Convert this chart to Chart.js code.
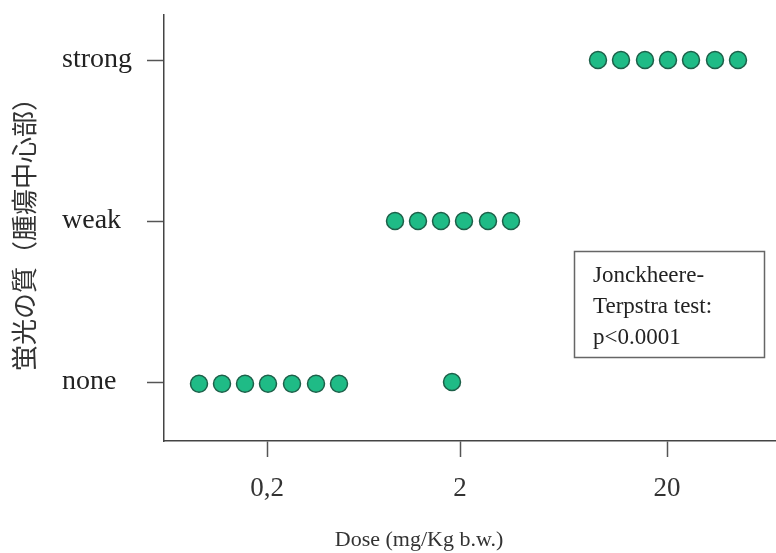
<!DOCTYPE html>
<html>
<head>
<meta charset="utf-8">
<script src="https://cdn.jsdelivr.net/npm/chart.js@4/dist/chart.umd.min.js"></script>
<style>
  body { margin: 0; background: #fff; }
  #wrap { width: 776px; height: 553px; }
</style>
</head>
<body>
<div id="wrap"><canvas id="dose-chart"></canvas></div>
<script>
// dose groups on the x axis
const doseLabels = ['0,2', '2', '20'];
const doseTickPos = [1, 1.965, 3];
// fluorescence grade on the y axis
const gradeLabels = ['none', 'weak', 'strong'];
const gradeTickPos = [1, 2, 3];

// one entry per animal (x = dose position with jitter, y = grade)
const pointX = [0.66, 0.775, 0.89, 1.005, 1.125, 1.245, 1.36,
                1.925,
                1.64, 1.755, 1.87, 1.985, 2.105, 2.22,
                2.655, 2.77, 2.89, 3.005, 3.12, 3.24, 3.355];
const pointY = [0.99, 0.99, 0.99, 0.99, 0.99, 0.99, 0.99,
                1.0,
                2, 2, 2, 2, 2, 2,
                3, 3, 3, 3, 3, 3, 3];

const noteLines = ['Jonckheere-', 'Terpstra test:', 'p<0.0001'];

const serif = "'Liberation Serif', 'DejaVu Serif', serif";

const notePlugin = {
    id: 'note',
    afterDraw(chart) {
        const ctx = chart.ctx;
        ctx.save();
        ctx.strokeStyle = '#666';
        ctx.lineWidth = 1.5;
        ctx.strokeRect(574.5, 251.5, 190, 106);
        ctx.fillStyle = '#222';
        ctx.font = '23px ' + serif;
        ctx.textBaseline = 'middle';
        ctx.textAlign = 'left';
        noteLines.forEach((line, i) => {
            ctx.fillText(line, 593, 276 + i * 31);
        });
        ctx.restore();
    }
};

const ctx = document.getElementById('dose-chart');

const doseChart = new Chart(ctx, {
    type: 'scatter',
    data: {
        datasets: [{
            data: pointX.map((x, i) => ({ x: x, y: pointY[i] })),
            backgroundColor: '#1fbb86',
            borderColor: '#1d6049',
            borderWidth: 1.5,
            pointRadius: 8.5,
            pointHoverRadius: 8.5
        }]
    },
    options: {
        responsive: true,
        maintainAspectRatio: false,
        animation: false,
        layout: { autoPadding: false, padding: { left: 62, top: 15, right: 0, bottom: 0 } },
        plugins: {
            legend: { display: false },
            tooltip: { enabled: false },
            title: {
                display: true,
                position: 'bottom',
                text: 'Dose (mg/Kg b.w.)',
                color: '#333',
                font: { family: serif, size: 22, weight: 'normal' },
                padding: 0
            }
        },
        scales: {
            x: {
                type: 'linear',
                min: 0.485,
                max: 3.545,
                afterBuildTicks: scale => {
                    scale.ticks = doseTickPos.map(v => ({ value: v }));
                },
                afterFit: scale => {
                    scale.height = 85.6;
                    scale.paddingLeft = 0;
                    scale.paddingRight = 0;
                },
                ticks: {
                    callback: (value, index) => doseLabels[index],
                    color: '#333',
                    font: { family: serif, size: 27 },
                    padding: 16,
                    maxRotation: 0
                },
                grid: {
                    drawOnChartArea: false,
                    tickLength: 16,
                    tickColor: '#555',
                    tickWidth: 1.5
                },
                border: { color: '#444', width: 1.5 }
            },
            y: {
                type: 'linear',
                min: 0.634,
                max: 3.28,
                afterBuildTicks: scale => {
                    scale.ticks = gradeTickPos.map(v => ({ value: v }));
                },
                afterFit: scale => {
                    scale.width = 102;
                    scale.paddingTop = 0;
                    scale.paddingBottom = 0;
                },
                ticks: {
                    callback: (value, index) => gradeLabels[index],
                    color: '#222',
                    crossAlign: 'far',
                    font: { family: serif, size: 28 }
                },
                grid: {
                    drawOnChartArea: false,
                    tickLength: 17,
                    tickColor: '#555',
                    tickWidth: 1.5
                },
                border: { color: '#444', width: 1.5 },
                title: {
                    display: true,
                    text: '蛍光の質（腫瘍中心部）',
                    color: '#333',
                    font: { family: "'Noto Sans CJK JP', sans-serif", size: 26 },
                    padding: { top: -53, bottom: 0 }
                }
            }
        }
    },
    plugins: [notePlugin]
});
</script>
</body>
</html>
